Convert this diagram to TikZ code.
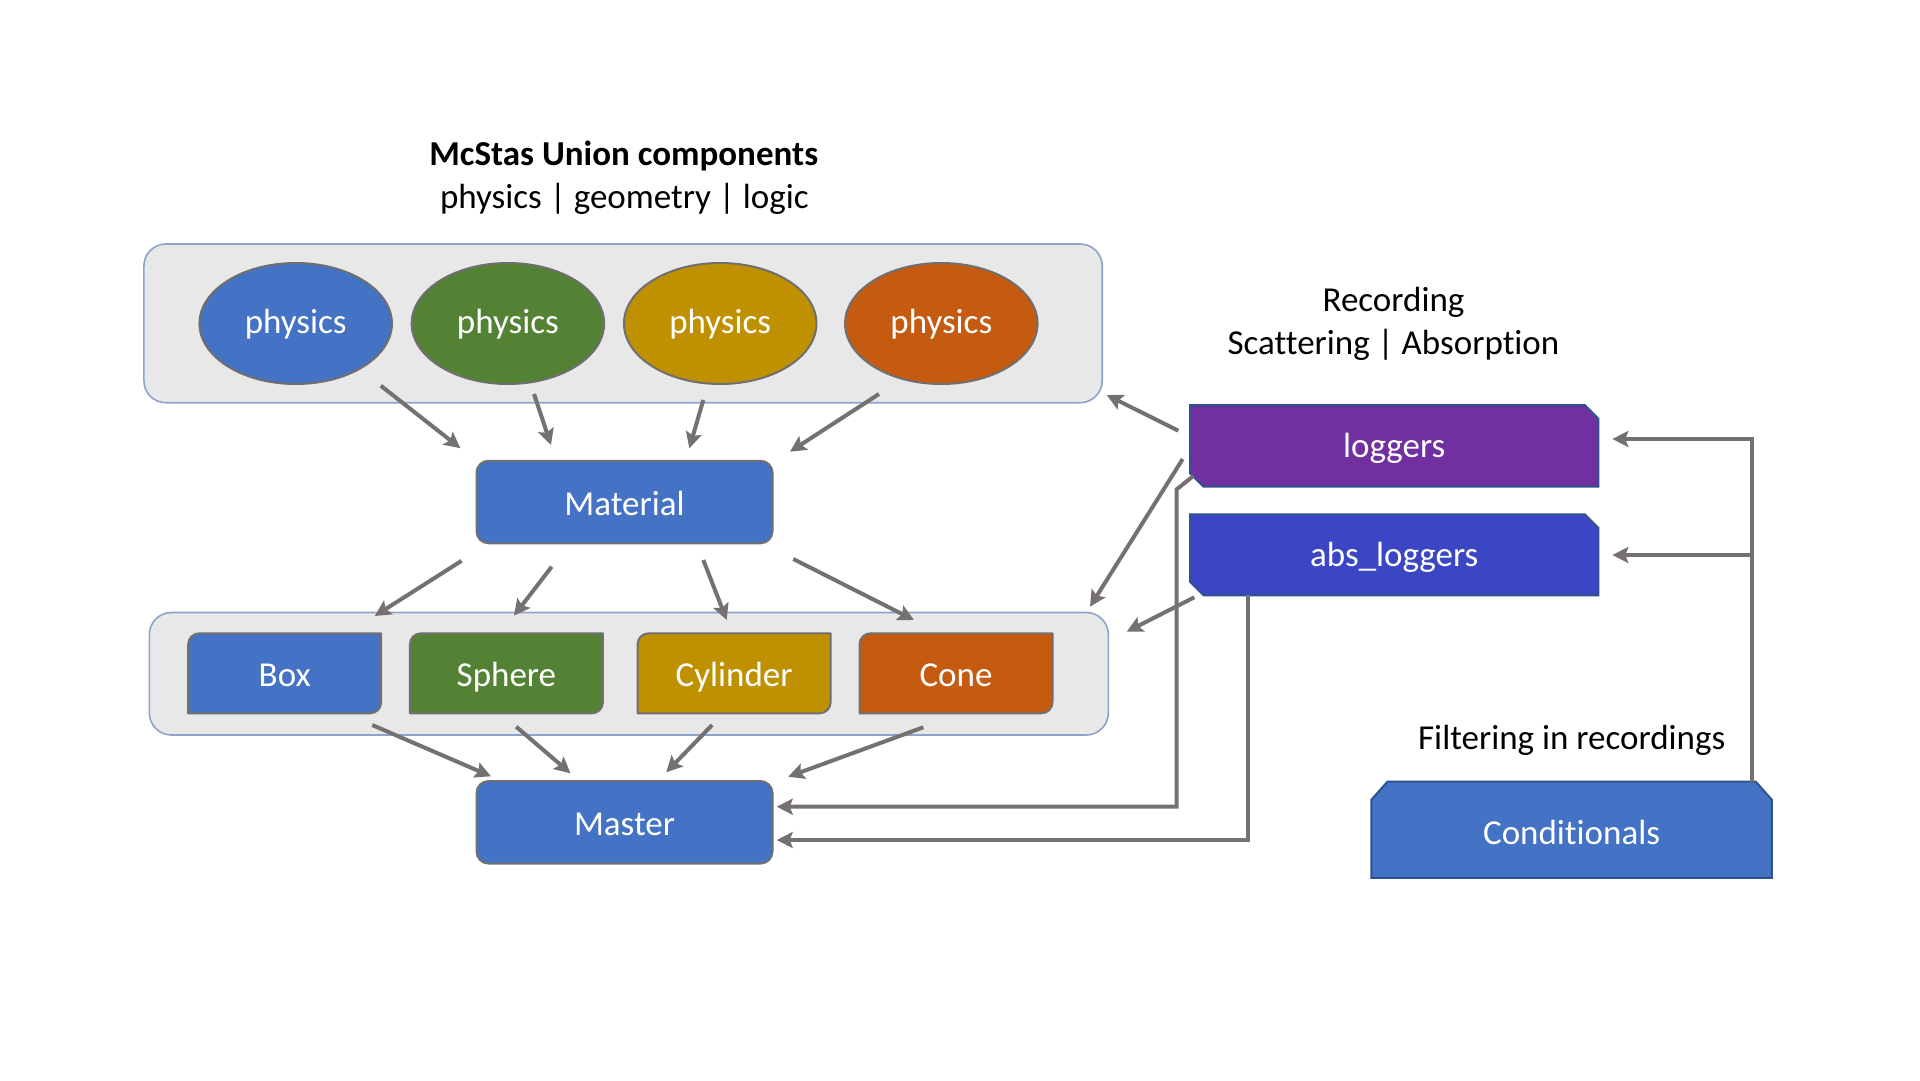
\documentclass[tikz,border=0pt]{standalone}
\usepackage{fontspec}
\setmainfont{Carlito}[Ligatures=NoCommon]
\usetikzlibrary{arrows.meta,shapes.geometric}
\definecolor{grpfill}{HTML}{E8E8E8}
\definecolor{grpline}{HTML}{8EA3CB}
\definecolor{ellline}{HTML}{6F6F6F}
\definecolor{boxline}{HTML}{707070}
\definecolor{logline}{HTML}{2F528F}
\definecolor{arrgray}{HTML}{767171}
\definecolor{cblue}{HTML}{4472C4}
\definecolor{cgreen}{HTML}{548235}
\definecolor{cgold}{HTML}{BF9000}
\definecolor{corange}{HTML}{C55A11}
\definecolor{cpurple}{HTML}{7030A0}
\definecolor{cabs}{HTML}{3B46C4}
% box with rounded top-left and bottom-right corners (r = 11)
\newcommand{\rdshape}[2]{%
  \filldraw[gshape, fill=#2] ({#1-85.5},633.3) -- ({#1+96.5},633.3) -- ({#1+96.5},702.3)
    .. controls ({#1+96.5},708.37) and ({#1+91.57},713.3) .. ({#1+85.5},713.3)
    -- ({#1-96.5},713.3) -- ({#1-96.5},644.3)
    .. controls ({#1-96.5},638.23) and ({#1-91.57},633.3) .. ({#1-85.5},633.3) -- cycle;}
\begin{document}
\begin{tikzpicture}[x=1pt,y=-1pt,
  every node/.style={font=\fontsize{35}{42}\selectfont},
  lbl/.style={anchor=base, text=black, inner sep=0},
  grp/.style={rectangle, rounded corners=22pt, fill=grpfill, draw=grpline, line width=1.6pt, inner sep=0},
  phys/.style={ellipse, minimum width=192.5pt, minimum height=121pt, inner sep=0, draw=ellline, line width=2pt, text=white, text height=24pt, text depth=4pt},
  mbox/.style={rectangle, rounded corners=12pt, minimum width=296pt, minimum height=82.5pt, inner sep=0, fill=cblue, draw=boxline, line width=2pt, text=white, text height=30pt, text depth=4pt},
  gtxt/.style={rectangle, minimum width=193pt, minimum height=80pt, inner sep=0, text=white, text height=30pt, text depth=4pt},
  gshape/.style={draw=boxline, line width=2pt, line join=round},
  ltxt/.style={rectangle, minimum width=408pt, minimum height=81.5pt, inner sep=0, text=white, text height=28pt, text depth=4pt},
  lshape/.style={draw=logline, line width=2pt},
  arr/.style={draw=arrgray, line width=4pt, -{Stealth[length=16pt,width=16pt,inset=3pt]}},
]
\fill[white] (0,0) rectangle (1920,1080);
\useasboundingbox (0,0) rectangle (1920,1080);

% titles
\node[lbl, font=\fontsize{35}{42}\selectfont\bfseries] (title) at (623.7,165) {McStas Union components};
\node[lbl] (sub) at (624.4,208.5) {physics | geometry | logic};
\node[lbl] (rec1) at (1393.5,311) {Recording};
\node[lbl] (rec2) at (1393.5,354) {Scattering | Absorption};
\node[lbl] (filt) at (1571.7,749) {Filtering in recordings};

% groups
\node[grp, minimum width=958.3pt, minimum height=158.7pt] (g1) at (623.05,323.35) {};
\node[grp, minimum width=958.9pt, minimum height=122.5pt] (g2) at (628.85,673.75) {};

% physics ellipses
\node[phys, fill=cblue]   (e1) at (295.7,323.5) {physics};
\node[phys, fill=cgreen]  (e2) at (507.9,323.5) {physics};
\node[phys, fill=cgold]   (e3) at (720.2,323.5) {physics};
\node[phys, fill=corange] (e4) at (941.3,323.5) {physics};

% material and master
\node[mbox] (mat) at (624.5,502) {Material};
\node[mbox] (mas) at (624.5,822.3) {Master};

% geometry boxes
\rdshape{284.7}{cblue}
\rdshape{506.4}{cgreen}
\rdshape{734.1}{cgold}
\rdshape{956}{corange}
\node[gtxt] (b1) at (284.7,673.3) {Box};
\node[gtxt] (b2) at (506.4,673.3) {Sphere};
\node[gtxt] (b3) at (734.1,673.3) {Cylinder};
\node[gtxt] (b4) at (956,673.3) {Cone};

% loggers
\filldraw[lshape, fill=cpurple] (1190,405) -- (1584.8,405) -- (1598.3,418.5) -- (1598.3,486.7) -- (1203.5,486.7) -- (1190,473.2) -- cycle;
\node[ltxt] (log) at (1394.2,445.8) {loggers};
\filldraw[lshape, fill=cabs] (1190,514.3) -- (1584.8,514.3) -- (1598.3,527.8) -- (1598.3,595.3) -- (1203.5,595.3) -- (1190,581.8) -- cycle;
\node[ltxt] (abs) at (1394.2,554.8) {abs\_loggers};

% conditionals
\filldraw[lshape, fill=cblue] (1371.4,877.8) -- (1371.4,799.7) -- (1387.4,781.7) -- (1755.8,781.7) -- (1771.8,799.7) -- (1771.8,877.8) -- cycle;
\node[rectangle, minimum width=400pt, minimum height=96pt, inner sep=0, text=white, text height=34pt, text depth=4pt] (cond) at (1571.6,829.8) {Conditionals};

% physics -> material
\draw[arr] ([shift={(85.1,62.2)}]e1.center) -- ([shift={(-164.1,-53.8)}]mat.center);
\draw[arr] ([shift={(26.1,70.5)}]e2.center) -- ([shift={(-73.5,-57)}]mat.center);
\draw[arr] ([shift={(-16.9,76.5)}]e3.center) -- ([shift={(64.8,-53.7)}]mat.center);
\draw[arr] ([shift={(-62.3,70.5)}]e4.center) -- ([shift={(165.5,-50.3)}]mat.center);

% material -> geometries
\draw[arr] ([shift={(-162.9,58.8)}]mat.center) -- ([shift={(90,-57.3)}]b1.center);
\draw[arr] ([shift={(-72.8,64.7)}]mat.center) -- ([shift={(7.6,-57.6)}]b2.center);
\draw[arr] ([shift={(78.8,58)}]mat.center) -- ([shift={(-7.4,-53.3)}]b3.center);
\draw[arr] ([shift={(168.8,57)}]mat.center) -- ([shift={(-42,-53.3)}]b4.center);

% geometries -> master
\draw[arr] ([shift={(87.5,51.7)}]b1.center) -- ([shift={(-133.5,-46)}]mas.center);
\draw[arr] ([shift={(9.8,53.4)}]b2.center) -- ([shift={(-54,-49)}]mas.center);
\draw[arr] ([shift={(-22,51.7)}]b3.center) -- ([shift={(41.7,-50)}]mas.center);
\draw[arr] ([shift={(-32.7,54)}]b4.center) -- ([shift={(163.8,-45.6)}]mas.center);

% loggers -> groups
\draw[arr] ([shift={(-215.9,-15.1)}]log.center) -- ([shift={(483.65,71.65)}]g1.center);
\draw[arr] ([shift={(-211.5,13.2)}]log.center) -- ([shift={(461.15,-67.05)}]g2.center);
\draw[arr] ([shift={(-199.9,42.5)}]abs.center) -- ([shift={(497.85,-42.05)}]g2.center);

% loggers -> master
\draw[arr] ([shift={(-200.9,30.2)}]log.center) -- ([shift={(-217.5,43.5)}]log.center) |- ([shift={(152.2,-15.6)}]mas.center);
\draw[arr] ([shift={(-146.7,40.5)}]abs.center) |- ([shift={(152.2,17.7)}]mas.center);

% conditionals -> loggers
\draw[arr] ([shift={(179.9,-47.8)}]cond.center) |- ([shift={(218.1,-6.8)}]log.center);
\draw[arr] ([shift={(179.9,-47.8)}]cond.center) |- ([shift={(218.1,0.2)}]abs.center);
\end{tikzpicture}
\end{document}
